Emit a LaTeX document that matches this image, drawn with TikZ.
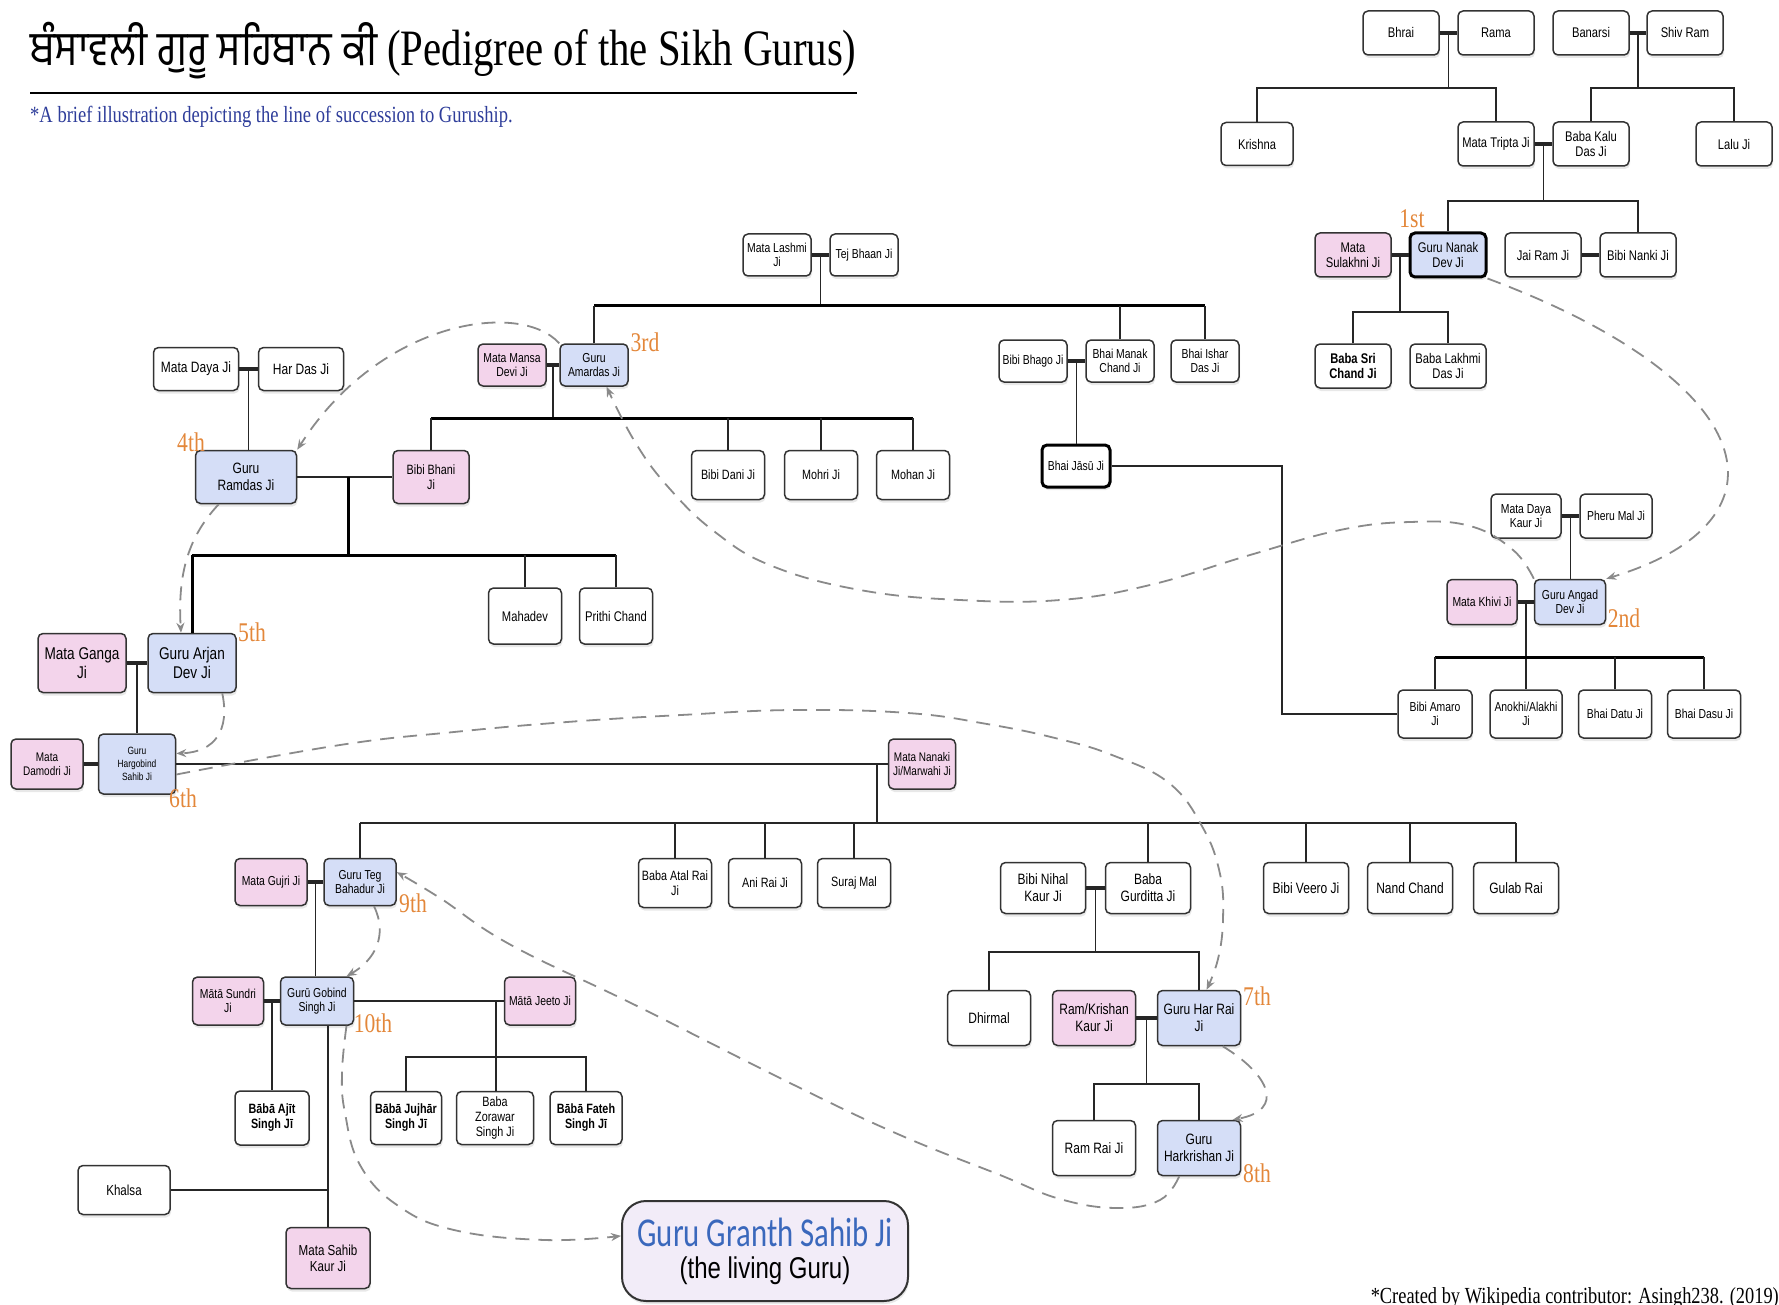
\documentclass[tikz,border=0pt]{standalone}
\usepackage{fontspec}
\setmainfont{Liberation Sans}[FakeStretch=0.8]
\newfontfamily\serifface{Liberation Serif}[FakeStretch=0.8]
\newfontfamily\gurface{Hind Jalandhar}[Script=Gurmukhi,FakeStretch=0.85]
\newfontfamily\granthface{Carlito}[FakeStretch=0.75]
\usepackage{tikz}
\usetikzlibrary{arrows.meta}
\usetikzlibrary{calc}
\usetikzlibrary{shadows}
\definecolor{wifepink}{HTML}{F3D4EB}
\definecolor{gurublue}{HTML}{D5DEF7}
\definecolor{granthfill}{HTML}{F2ECF8}
\definecolor{granthblue}{HTML}{3A68BC}
\definecolor{rankorange}{HTML}{E3873A}
\definecolor{notegrey}{HTML}{8A8A8A}
\definecolor{noteblue}{HTML}{2E3D9A}
\newcommand\fsz[2]{\fontsize{#1}{#2}\selectfont}

\begin{document}
\begin{tikzpicture}[x=1pt, y=-1pt,
    pers/.style={draw=black!80, line width=1.5pt, rounded corners=5pt, fill=white,
      align=center, inner sep=1pt, minimum width=76pt, minimum height=44pt,
      drop shadow={shadow xshift=1pt, shadow yshift=-3pt, opacity=0.18},
      font=\fsz{14}{15}},
    wife/.style={pers, fill=wifepink},
    guru/.style={pers, fill=gurublue},
    dims/.style 2 args={minimum width=#1pt, minimum height=#2pt},
    sbox/.style={dims={68}{42}, font=\fsz{13}{14}},
    mbox/.style={dims={73}{49}, font=\fsz{13.5}{15}},
    lbox/.style={dims={85}{51}, font=\fsz{15}{17}},
    tree/.style={draw=black!85, line width=1.6pt},
    bar/.style={draw=black, line width=3pt},
    wed/.style={draw=black!85, line width=3.5pt},
    succ/.style={draw=notegrey, line width=1.8pt, dash pattern=on 14pt off 9pt,
      -{Stealth[length=10pt, width=8pt]}},
    rank/.style={text=rankorange, font=\serifface\fsz{27}{27}, inner sep=0pt}]
    \useasboundingbox (0,0) rectangle (1779,1305);

    \node[anchor=base west, inner sep=0pt] (title) at (30,66)
      {\gurface\fsz{48}{48}ਬੰਸਾਵਲੀ ਗੁਰੂ ਸਹਿਬਾਨ ਕੀ \serifface\fsz{51}{51}(Pedigree of the Sikh Gurus)};
    \draw[line width=1.5pt] (30,93) -- (857,93);
    \node[anchor=base west, inner sep=0pt, text=noteblue, font=\serifface\fsz{23.2}{23}] (note) at (30,123)
      {*A brief illustration depicting the line of succession to Guruship.};
    \node[anchor=base east, inner sep=0pt, font=\serifface\fsz{23}{23}] (credit) at (1779,1303)
      {*Created by Wikipedia contributor: Asingh238. (2019)};

    \node[pers] (Bhrai) at (1401,33) {Bhrai};
    \node[pers] (Rama) at (1496,33) {Rama};
    \node[pers] (Banarsi) at (1591,33) {Banarsi};
    \node[pers] (ShivRam) at (1685,33) {Shiv Ram};
    \node[pers, dims={72}{43}] (Krishna) at (1257,144) {Krishna};
    \node[pers] (Tripta) at (1496,144) {Mata Tripta Ji};
    \node[pers] (Kalu) at (1591,144) {Baba Kalu\\Das Ji};
    \node[pers] (Lalu) at (1734,144) {Lalu Ji};
    \node[wife] (Sulakhni) at (1353,255) {Mata\\Sulakhni Ji};
    \node[guru, draw=black, line width=3pt] (Nanak) at (1448,255) {Guru Nanak\\Dev Ji};
    \node[pers] (JaiRam) at (1543,255) {Jai Ram Ji};
    \node[pers] (Nanki) at (1638,255) {Bibi Nanki Ji};
    \node[pers, font=\bfseries\fsz{14}{15}] (SriChand) at (1353,366) {Baba Sri\\Chand Ji};
    \node[pers] (Lakhmi) at (1448,366) {Baba Lakhmi\\Das Ji};

    \node[pers, sbox] (Lashmi) at (777,255) {Mata Lashmi\\Ji};
    \node[pers, sbox] (TejBhaan) at (864,255) {Tej Bhaan Ji};
    \node[wife, sbox] (Mansa) at (512,365) {Mata Mansa\\Devi Ji};
    \node[guru, sbox] (Amardas) at (594,365) {Guru\\Amardas Ji};
    \node[pers, sbox] (Bhago) at (1033,361) {Bibi Bhago Ji};
    \node[pers, sbox] (Manak) at (1120,361) {Bhai Manak\\Chand Ji};
    \node[pers, sbox] (Ishar) at (1205,361) {Bhai Ishar\\Das Ji};
    \node[pers, sbox, draw=black, line width=3pt] (Jasu) at (1076,466) {Bhai Jāsū Ji};
    \node[wife, dims={76}{53}, font=\fsz{13.5}{15}] (Bhani) at (431,477) {Bibi Bhani\\Ji};
    \node[pers, mbox] (Dani) at (728,475) {Bibi Dani Ji};
    \node[pers, mbox] (Mohri) at (821,475) {Mohri Ji};
    \node[pers, mbox] (Mohan) at (913,475) {Mohan Ji};
    \node[pers, dims={85}{43}, font=\fsz{15}{16}] (DayaJi) at (196,369) {Mata Daya Ji};
    \node[pers, dims={85}{43}, font=\fsz{15}{16}] (HarDas) at (301,369) {Har Das Ji};
    \node[guru, dims={101}{53}, font=\fsz{15}{17}] (Ramdas) at (246,477) {Guru\\Ramdas Ji};
    \node[pers, dims={73}{56}] (Mahadev) at (525,616) {Mahadev};
    \node[pers, dims={73}{56}] (Prithi) at (616,616) {Prithi Chand};
    \node[wife, dims={88}{59}, font=\fsz{17}{19}] (Ganga) at (82,663) {Mata Ganga\\Ji};
    \node[guru, dims={88}{59}, font=\fsz{17}{19}] (Arjan) at (192,663) {Guru Arjan\\Dev Ji};
    \node[wife, dims={72}{50}, font=\fsz{12.5}{14}] (Damodri) at (47,764) {Mata\\Damodri Ji};
    \node[guru, dims={77}{60}, font=\fsz{10.5}{13}] (Hargobind) at (137,764) {Guru\\Hargobind\\Sahib Ji};
    \node[wife, dims={67}{50}, font=\fsz{12.5}{14}] (Nanaki) at (922,764) {Mata Nanaki\\Ji/Marwahi Ji};

    \node[pers, sbox, dims={70}{44}] (DayaKaur) at (1526,516) {Mata Daya\\Kaur Ji};
    \node[pers, sbox, dims={72}{44}] (Pheru) at (1616,516) {Pheru Mal Ji};
    \node[wife, sbox, dims={70}{45}] (Khivi) at (1482,602) {Mata Khivi Ji};
    \node[guru, sbox, dims={71}{45}] (Angad) at (1570,602) {Guru Angad\\Dev Ji};
    \node[pers, sbox, dims={74}{48}] (Amaro) at (1435,714) {Bibi Amaro\\Ji};
    \node[pers, sbox, dims={72}{48}] (Anokhi) at (1526,714) {Anokhi/Alakhi\\Ji};
    \node[pers, sbox, dims={73}{48}] (Datu) at (1615,714) {Bhai Datu Ji};
    \node[pers, sbox, dims={73}{48}] (Dasu) at (1704,714) {Bhai Dasu Ji};

    \node[wife, dims={72}{47}, font=\fsz{13}{14}] (Gujri) at (271,882) {Mata Gujri Ji};
    \node[guru, dims={72}{47}, font=\fsz{13}{14}] (TegBahadur) at (360,882) {Guru Teg\\Bahadur Ji};
    \node[pers, mbox] (AtalRai) at (675,883) {Baba Atal Rai\\Ji};
    \node[pers, mbox] (AniRai) at (765,883) {Ani Rai Ji};
    \node[pers, mbox] (Suraj) at (854,883) {Suraj Mal};
    \node[pers, lbox] (Nihal) at (1043,888) {Bibi Nihal\\Kaur Ji};
    \node[pers, lbox] (Gurditta) at (1148,888) {Baba\\Gurditta Ji};
    \node[pers, lbox] (Veero) at (1306,888) {Bibi Veero Ji};
    \node[pers, lbox] (Nand) at (1410,888) {Nand Chand};
    \node[pers, lbox] (Gulab) at (1516,888) {Gulab Rai};
    \node[pers, lbox, dims={83}{55}] (Dhirmal) at (989,1018) {Dhirmal};
    \node[wife, lbox, dims={83}{55}] (RamKrishan) at (1094,1018) {Ram/Krishan\\Kaur Ji};
    \node[guru, lbox, dims={83}{55}] (HarRai) at (1199,1018) {Guru Har Rai\\Ji};
    \node[pers, lbox, dims={83}{55}] (RamRai) at (1094,1148) {Ram Rai Ji};
    \node[guru, lbox, dims={83}{55}] (Harkrishan) at (1199,1148) {Guru\\Harkrishan Ji};

    \node[wife, dims={71}{48}, font=\fsz{13}{14}] (Sundri) at (228,1001) {Mātā Sundri\\Ji};
    \node[guru, dims={73}{48}, font=\fsz{13}{14}] (Gobind) at (317,1001) {Gurū Gobind\\Singh Ji};
    \node[wife, dims={71}{48}, font=\fsz{13}{14}] (Jeeto) at (540,1001) {Mātā Jeeto Ji};
    \node[pers, dims={74}{54}, font=\bfseries\fsz{13.5}{15}] (Ajit) at (272,1118) {Bābā Ajīt\\Singh Jī};
    \node[pers, dims={71}{53}, font=\bfseries\fsz{13.5}{15}] (Jujhar) at (406,1118) {Bābā Jujhār\\Singh Jī};
    \node[pers, dims={77}{53}, font=\fsz{13.5}{15}] (Zorawar) at (495,1118) {Baba\\Zorawar\\Singh Ji};
    \node[pers, dims={72}{53}, font=\bfseries\fsz{13.5}{15}] (Fateh) at (586,1118) {Bābā Fateh\\Singh Jī};
    \node[pers, dims={92}{49}, font=\fsz{14.5}{16}] (Khalsa) at (124,1190) {Khalsa};
    \node[wife, dims={84}{61}, font=\fsz{14.5}{16}] (SahibKaur) at (328,1258) {Mata Sahib\\Kaur Ji};
    \node[pers, fill=granthfill, rounded corners=24pt, line width=2pt, dims={286}{100},
      font=\fsz{30}{32}] (Granth) at (765,1251)
      {{\granthface\fsz{41}{32}\color{granthblue}Guru Granth Sahib Ji}\\(the living Guru)};

    \node[rank] (r1) at (1412,219) {1st};
    \node[rank] (r2) at (1624,618) {2nd};
    \node[rank] (r3) at (645,342) {3rd};
    \node[rank] (r4) at (191,442) {4th};
    \node[rank] (r5) at (252,632) {5th};
    \node[rank] (r6) at (183,798) {6th};
    \node[rank] (r7) at (1257,996) {7th};
    \node[rank] (r8) at (1257,1173) {8th};
    \node[rank] (r9) at (413,903) {9th};
    \node[rank] (r10) at (373,1023) {10th};

    \coordinate (yA) at (0,88);
    \coordinate (yB) at (0,201);
    \coordinate (yC) at (0,312);
    \coordinate (yD) at (0,306);
    \coordinate (yE) at (0,418);
    \coordinate (yF) at (0,555);
    \coordinate (yG) at (0,823);
    \coordinate (yH) at (0,952);
    \coordinate (yI) at (0,1084);
    \coordinate (yJ) at (0,1057);
    \coordinate (yK) at (0,657);

    \coordinate (mBR) at ($(Bhrai.east)!.5!(Rama.west)$);
    \coordinate (mBS) at ($(Banarsi.east)!.5!(ShivRam.west)$);
    \coordinate (mTK) at ($(Tripta.east)!.5!(Kalu.west)$);
    \coordinate (mSN) at ($(Sulakhni.east)!.5!(Nanak.west)$);
    \coordinate (mLT) at ($(Lashmi.east)!.5!(TejBhaan.west)$);
    \coordinate (mBM) at ($(Bhago.east)!.5!(Manak.west)$);
    \coordinate (mMA) at ($(Mansa.east)!.5!(Amardas.west)$);
    \coordinate (mDH) at ($(DayaJi.east)!.5!(HarDas.west)$);
    \coordinate (mRB) at (348,477);
    \coordinate (mGA) at ($(Ganga.east)!.5!(Arjan.west)$);
    \coordinate (mHN) at (877,764);
    \coordinate (mDP) at ($(DayaKaur.east)!.5!(Pheru.west)$);
    \coordinate (mKA) at ($(Khivi.east)!.5!(Angad.west)$);
    \coordinate (mGT) at ($(Gujri.east)!.5!(TegBahadur.west)$);
    \coordinate (mNG) at ($(Nihal.east)!.5!(Gurditta.west)$);
    \coordinate (mRH) at ($(RamKrishan.east)!.5!(HarRai.west)$);
    \coordinate (mSG) at ($(Sundri.east)!.5!(Gobind.west)$);
    \coordinate (mGJ) at (496,1001);
    \coordinate (jJ) at (1282,600);

    \draw[wed] (Bhrai) -- (Rama);
    \draw[tree] (mBR) -- (mBR |- yA);
    \draw[tree] (Krishna.north) |- (yA -| Tripta) -- (Tripta.north);
    \draw[wed] (Banarsi) -- (ShivRam);
    \draw[tree] (mBS) -- (mBS |- yA);
    \draw[tree] (Kalu.north) |- (yA -| Lalu) -- (Lalu.north);
    \draw[wed] (Tripta) -- (Kalu);
    \draw[tree] (mTK) -- (mTK |- yB);
    \draw[tree] (Nanak.north) |- (yB -| Nanki) -- (Nanki.north);
    \draw[wed] (JaiRam) -- (Nanki);
    \draw[wed] (Sulakhni) -- (Nanak);
    \draw[tree] (mSN) -- (mSN |- yC);
    \draw[tree] (SriChand.north) |- (yC -| Lakhmi) -- (Lakhmi.north);

    \draw[wed] (Lashmi) -- (TejBhaan);
    \draw[tree] (mLT) -- (mLT |- yD);
    \draw[bar] (yD -| Amardas) -- (yD -| Ishar);
    \draw[tree] (Amardas.north) -- (Amardas.north |- yD);
    \draw[tree] (Manak.north) -- (Manak.north |- yD);
    \draw[tree] (Ishar.north) -- (Ishar.north |- yD);
    \draw[wed] (Bhago) -- (Manak);
    \draw[tree] (mBM) -- (mBM |- Jasu.north);
    \draw[tree, line width=2.2pt] (Jasu.east) -| (jJ) |- (Amaro.west);
    \draw[wed] (Mansa) -- (Amardas);
    \draw[tree] (mMA) -- (mMA |- yE);
    \draw[bar] (yE -| Bhani) -- (yE -| Mohan);
    \draw[tree] (Bhani.north) -- (Bhani.north |- yE);
    \draw[tree] (Dani.north) -- (Dani.north |- yE);
    \draw[tree] (Mohri.north) -- (Mohri.north |- yE);
    \draw[tree] (Mohan.north) -- (Mohan.north |- yE);
    \draw[wed] (DayaJi) -- (HarDas);
    \draw[tree] (mDH) -- (mDH |- Ramdas.north);
    \draw[tree, line width=2.2pt] (Ramdas) -- (Bhani);
    \draw[bar] (mRB) -- (mRB |- yF);
    \draw[bar] (yF -| Arjan) -- (yF -| Prithi);
    \draw[bar] (Arjan.north) -- (Arjan.north |- yF);
    \draw[tree] (Mahadev.north) -- (Mahadev.north |- yF);
    \draw[tree] (Prithi.north) -- (Prithi.north |- yF);
    \draw[wed] (Ganga) -- (Arjan);
    \draw[tree] (mGA) -- (mGA |- Hargobind.north);
    \draw[wed] (Damodri) -- (Hargobind);
    \draw[tree] (Hargobind) -- (Nanaki);
    \draw[tree] (mHN) -- (mHN |- yG);
    \draw[tree] (yG -| TegBahadur) -- (yG -| Gulab);
    \draw[tree] (TegBahadur.north) -- (TegBahadur.north |- yG);
    \draw[tree] (AtalRai.north) -- (AtalRai.north |- yG);
    \draw[tree] (AniRai.north) -- (AniRai.north |- yG);
    \draw[tree] (Suraj.north) -- (Suraj.north |- yG);
    \draw[tree] (Gurditta.north) -- (Gurditta.north |- yG);
    \draw[tree] (Veero.north) -- (Veero.north |- yG);
    \draw[tree] (Nand.north) -- (Nand.north |- yG);
    \draw[tree] (Gulab.north) -- (Gulab.north |- yG);

    \draw[wed] (DayaKaur) -- (Pheru);
    \draw[tree] (mDP) -- (mDP |- Angad.north);
    \draw[wed] (Khivi) -- (Angad);
    \draw[tree] (mKA) -- (mKA |- Anokhi.north);
    \draw[bar] (yK -| Amaro) -- (yK -| Dasu);
    \draw[tree] (Amaro.north) -- (Amaro.north |- yK);
    \draw[tree] (Datu.north) -- (Datu.north |- yK);
    \draw[tree] (Dasu.north) -- (Dasu.north |- yK);

    \draw[wed] (Gujri) -- (TegBahadur);
    \draw[tree] (mGT) -- (mGT |- Gobind.north);
    \draw[wed] (Nihal) -- (Gurditta);
    \draw[tree] (mNG) -- (mNG |- yH);
    \draw[tree] (Dhirmal.north) |- (yH -| HarRai) -- (HarRai.north);
    \draw[wed] (RamKrishan) -- (HarRai);
    \draw[tree] (mRH) -- (mRH |- yI);
    \draw[tree] (RamRai.north) |- (yI -| Harkrishan) -- (Harkrishan.north);
    \draw[wed] (Sundri) -- (Gobind);
    \draw[tree] (mSG) -- (mSG |- Ajit.north);
    \draw[tree] (Gobind) -- (Jeeto);
    \draw[tree] (mGJ) -- (mGJ |- Zorawar.north);
    \draw[tree] (Jujhar.north) |- (yJ -| Fateh) -- (Fateh.north);
    \draw[tree] (SahibKaur.north |- Gobind.south) -- (SahibKaur.north);
    \draw[tree] (Khalsa) -- (Khalsa -| SahibKaur);

    \draw[succ] (Nanak.south east) .. controls (1760,380) and (1800,520) .. (Angad.north east);
    \draw[succ] plot[smooth, tension=0.7] coordinates {(Angad.north west) (1513,550) (1470,526)
      (1410,522) (1340,530) (1250,555) (1150,585) (1060,600) (960,600) (860,590) (772,566)
      (715,532) (669,488) (635,442) (Amardas.-60)};
    \draw[succ] (Amardas.north west) .. controls (520,300) and (380,320) .. (Ramdas.north east);
    \draw[succ] (Ramdas.-135) .. controls (185,540) and (178,580) .. (Arjan.110);
    \draw[succ] (Arjan.-45) .. controls (230,730) and (215,752) .. (Hargobind.15);
    \draw[succ] plot[smooth, tension=0.7] coordinates {(Hargobind.-15) (340,745) (454,732)
      (567,722) (681,715) (794,710) (908,713) (987,724) (1055,738) (1112,755) (1169,783)
      (1203,828) (1220,874) (1223,919) (1218,959) (HarRai.75)};
    \draw[succ] (HarRai.-50) .. controls (1270,1075) and (1285,1110) .. (Harkrishan.40);
    \draw[succ] plot[smooth, tension=0.7] coordinates {(Harkrishan.-125) (1160,1200) (1117,1208)
      (1060,1199) (1000,1175) (900,1135) (794,1085) (635,1005) (511,945) (440,898)
      (TegBahadur.15)};
    \draw[succ] (TegBahadur.-60) .. controls (388,935) and (375,960) .. (Gobind.40);
    \draw[succ] plot[smooth, tension=0.7] coordinates {(Gobind.-40) (342,1073) (345,1113)
      (360,1165) (397,1205) (454,1230) (545,1240) (Granth.174)};
  \end{tikzpicture}
\end{document}
